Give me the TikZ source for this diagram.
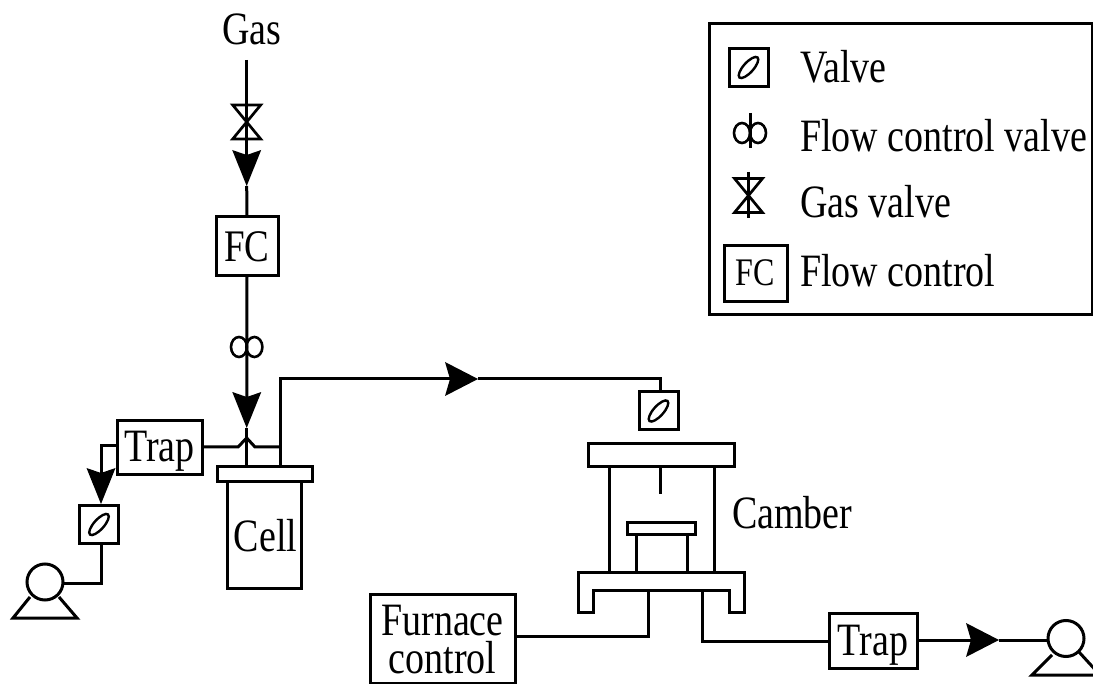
\documentclass[tikz,border=0pt]{standalone}
\usepackage{fontspec}
\usepackage{graphicx}
\setmainfont{Liberation Serif}
\usetikzlibrary{arrows.meta,shapes.geometric}
\newcommand{\TT}[1]{\scalebox{1}[1.22]{#1}}
\tikzset{
  every node/.style={inner sep=0pt,outer sep=0pt},
  pipe/.style={line width=3pt,line join=miter,black},
  flowtip/.style={pipe,-{Stealth[length=36pt,width=29pt,inset=5pt,line width=0pt]}},
  flowtipH/.style={pipe,-{Stealth[length=33pt,width=34pt,inset=5pt,line width=0pt]}},
  box/.style={draw,line width=3pt,font=\fontsize{38}{38}\selectfont,align=center},
  lbl/.style={font=\fontsize{38}{38}\selectfont,anchor=base west},
  fcbox/.style={box,font=\fontsize{37}{37}\selectfont},
  valvebox/.style={box,minimum width=39pt,minimum height=38pt},
  valveeye/.style={draw,ellipse,line width=2.4pt,minimum width=27pt,minimum height=10pt,rotate=48},
  flowring/.style={draw,ellipse,line width=2.6pt,minimum width=16pt,minimum height=20pt},
  pumpring/.style={draw,circle,line width=3pt,minimum size=36pt,fill=white},
  pics/gasvalve/.style={code={\draw[line width=2.7pt] (-14,-17) -- (14,-17) -- (-14,17) -- (14,17) -- cycle;}}
}
\begin{document}
\begin{tikzpicture}[x=1pt,y=-1pt]
\useasboundingbox (0,0) rectangle (1093,684);
\begin{scope}
\clip (0,0) rectangle (1093,684);

% --- Gas feed line
\node[lbl] (gas) at (222,45) {\TT{Gas}};
\coordinate (gastop) at (246.7,60);
\coordinate (tipA) at (246.7,186);
\node[fcbox,minimum width=62pt,minimum height=59pt,text height=45pt,text depth=14pt] (fc) at (247,246.5) {\TT{FC}};
\draw[flowtip] (gastop) -- (tipA);
\draw[pipe] (tipA) -- (fc.north);
\path (246.7,122) pic {gasvalve};

% --- Flow control valve and cell
\node[box,minimum width=95pt,minimum height=15pt] (lid) at (264.5,474.5) {};
\node[box,minimum width=74pt,minimum height=106pt,text height=69pt,text depth=37pt] (cell) at (264,535) {\hspace*{3pt}\TT{Cell}};
\coordinate (tipB) at (246.7,428);
\coordinate (lidin) at (246.7,467);
\draw[flowtip] (fc.south) -- (tipB);
\draw[pipe] (tipB) -- (lidin);
\node[flowring] (fvl) at (239,347) {};
\node[flowring] (fvr) at (254.4,347) {};

% --- Outlet to the chamber
\coordinate (riser) at (280.5,467);
\coordinate (bendA) at (280.5,379);
\coordinate (tipC) at (478,379);
\coordinate (bendB) at (660,379);
\node[valvebox] (v2) at (658.5,411) {};
\node[valveeye] (e2) at (v2) {};
\draw[flowtipH] (riser) -- (bendA) -- (tipC);
\draw[pipe] (tipC) -- (bendB) -- (bendB |- v2.north);

% --- Trap on the left
\node[box,minimum width=85pt,minimum height=54pt,text height=41pt,text depth=13pt] (trapA) at (159.5,448) {\TT{Trap}};
\coordinate (hopL) at (238,447);
\coordinate (hopT) at (246.7,438);
\coordinate (hopR) at (255,447);
\coordinate (hopE) at (280.5,447);
\draw[pipe] (trapA.east |- hopL) -- (hopL) -- (hopT) -- (hopR) -- (hopE);
\coordinate (trapout) at (117,446);
\coordinate (bendC) at (101,446);
\coordinate (tipD) at (101,504);
\node[valvebox] (v1) at (99,524.5) {};
\node[valveeye] (e1) at (v1) {};
\draw[flowtip] (trapout) -- (bendC) -- (tipD);
\node[pumpring] (pumpL) at (45,582) {};
\coordinate (bendD) at (101,583);
\draw[pipe] (bendD |- v1.south) -- (bendD) -- (pumpL.east |- bendD);
\draw[pipe] (30,597) -- (13,618) -- (77,618) -- (59,597);

% --- Chamber
\node[box,minimum width=146pt,minimum height=23pt] (topplate) at (661,455.5) {};
\coordinate (wallL) at (609,572);
\coordinate (wallR) at (714,572);
\draw[pipe] (wallL |- topplate.south) -- (wallL);
\draw[pipe] (wallR |- topplate.south) -- (wallR);
\coordinate (probe) at (660,494);
\draw[pipe] (probe |- topplate.south) -- (probe);
\node[box,minimum width=68pt,minimum height=12pt] (plate) at (661,528) {};
\coordinate (legL) at (636,572);
\coordinate (legR) at (687,572);
\draw[pipe] (legL |- plate.south) -- (legL);
\draw[pipe] (legR |- plate.south) -- (legR);
\draw[pipe] (578,572) -- (744,572) -- (744,612) -- (729,612) -- (729,590) -- (593,590) -- (593,612) -- (578,612) -- cycle;
\node[lbl] (camber) at (732,529) {\TT{Camber}};

% --- Furnace control
\node[box,minimum width=145pt,minimum height=89pt,text height=79pt,text depth=10pt] (furn) at (442.5,638.5) {\TT{Furnace}\\\TT{control}};
\coordinate (baseA) at (648.5,590);
\coordinate (bendE) at (648.5,636);
\draw[pipe] (baseA) -- (bendE) -- (bendE -| furn.east);

% --- Outlet trap and pump
\node[box,minimum width=88pt,minimum height=55pt,text height=42pt,text depth=13pt] (trapB) at (873,640.5) {\TT{Trap}};
\coordinate (baseB) at (702,590);
\coordinate (bendF) at (702,641);
\draw[pipe] (baseB) -- (bendF) -- (bendF -| trapB.west);
\node[pumpring] (pumpR) at (1066,638.5) {};
\coordinate (tipE) at (999,640);
\draw[flowtipH] (trapB.east |- tipE) -- (tipE);
\draw[pipe] (tipE) -- (pumpR.west |- tipE);
\draw[pipe] (1052,655) -- (1032,675) -- (1100,675) -- (1079,652);

% --- Legend
\node[draw,line width=3pt,minimum width=383pt,minimum height=291pt] (legend) at (900.5,169.5) {};
\node[valvebox] (lv) at (748.5,67.5) {};
\node[valveeye] (le) at (lv) {};
\node[lbl] (lt1) at (800,83) {\TT{Valve}};
\node[flowring] (lfl) at (742,133) {};
\node[flowring] (lfr) at (758,133) {};
\coordinate (lftop) at (750,113);
\coordinate (lfbot) at (750,148);
\draw[pipe] (lftop) -- (lfbot);
\node[lbl] (lt2) at (800,152) {\TT{Flow control valve}};
\path (748.5,195.5) pic {gasvalve};
\coordinate (lgtop) at (748.5,172);
\coordinate (lgbot) at (748.5,218);
\draw[pipe] (lgtop) -- (lgbot);
\node[lbl] (lt3) at (800,218) {\TT{Gas valve}};
\node[fcbox,font=\fontsize{32}{32}\selectfont,minimum width=63pt,minimum height=56pt,text height=40pt,text depth=16pt] (lfc) at (755.5,274) {\TT{FC}};
\node[lbl] (lt4) at (800,287) {\TT{Flow control}};
\end{scope}
\end{tikzpicture}
\end{document}
